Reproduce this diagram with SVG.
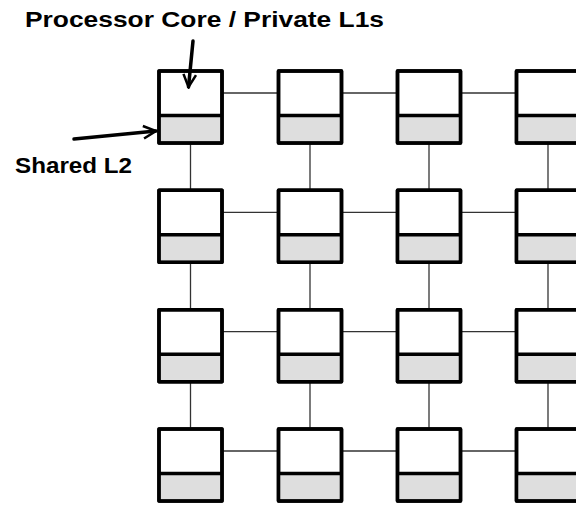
<svg xmlns="http://www.w3.org/2000/svg" width="576" height="506" viewBox="0 0 576 506">
<defs>
<style>
.core{fill:#ffffff;stroke:#000;stroke-width:3.5;stroke-linejoin:round}
.l2{fill:#dedede;stroke:none}
.div{stroke:#000;stroke-width:3.5}
.link{stroke:#333;stroke-width:1.3;fill:none}
.lbl{font-family:"Liberation Sans",Arial,sans-serif;font-weight:bold;font-size:22.5px;fill:#000}
.arr{stroke:#000;stroke-width:3.5;fill:none;stroke-linecap:round}
</style>
<marker id="ah" viewBox="0 0 10 10" refX="9" refY="5" markerWidth="4.5" markerHeight="4.5" orient="auto" markerUnits="strokeWidth">
<path d="M1,1 L9,5 L1,9" fill="none" stroke="#000" stroke-width="1.6" stroke-linejoin="miter"/>
</marker>
<g id="tile">
<rect class="core" x="0" y="0" width="63" height="72"/>
<rect class="l2" x="1.75" y="45" width="59.5" height="25.25"/>
<line class="div" x1="0" y1="44.5" x2="63" y2="44.5"/>
<rect x="0" y="0" width="63" height="72" fill="none" stroke="#000" stroke-width="3.5" stroke-linejoin="round"/>
</g>
</defs>
<g id="connectors">
<line class="link" x1="222" y1="93" x2="278.5" y2="93"/>
<line class="link" x1="341.5" y1="93" x2="397.5" y2="93"/>
<line class="link" x1="460.5" y1="93" x2="516.5" y2="93"/>
<line class="link" x1="222" y1="212.3" x2="278.5" y2="212.3"/>
<line class="link" x1="341.5" y1="212.3" x2="397.5" y2="212.3"/>
<line class="link" x1="460.5" y1="212.3" x2="516.5" y2="212.3"/>
<line class="link" x1="222" y1="331.7" x2="278.5" y2="331.7"/>
<line class="link" x1="341.5" y1="331.7" x2="397.5" y2="331.7"/>
<line class="link" x1="460.5" y1="331.7" x2="516.5" y2="331.7"/>
<line class="link" x1="222" y1="451" x2="278.5" y2="451"/>
<line class="link" x1="341.5" y1="451" x2="397.5" y2="451"/>
<line class="link" x1="460.5" y1="451" x2="516.5" y2="451"/>
<line class="link" x1="190.5" y1="143" x2="190.5" y2="190.3"/>
<line class="link" x1="190.5" y1="262.3" x2="190.5" y2="309.7"/>
<line class="link" x1="190.5" y1="381.7" x2="190.5" y2="429"/>
<line class="link" x1="310" y1="143" x2="310" y2="190.3"/>
<line class="link" x1="310" y1="262.3" x2="310" y2="309.7"/>
<line class="link" x1="310" y1="381.7" x2="310" y2="429"/>
<line class="link" x1="429" y1="143" x2="429" y2="190.3"/>
<line class="link" x1="429" y1="262.3" x2="429" y2="309.7"/>
<line class="link" x1="429" y1="381.7" x2="429" y2="429"/>
<line class="link" x1="548" y1="143" x2="548" y2="190.3"/>
<line class="link" x1="548" y1="262.3" x2="548" y2="309.7"/>
<line class="link" x1="548" y1="381.7" x2="548" y2="429"/>
</g>
<g id="n11"><use href="#tile" x="159" y="71"/></g>
<g id="n12"><use href="#tile" x="278.5" y="71"/></g>
<g id="n13"><use href="#tile" x="397.5" y="71"/></g>
<g id="n14"><use href="#tile" x="516.5" y="71"/></g>
<g id="n21"><use href="#tile" x="159" y="190.3"/></g>
<g id="n22"><use href="#tile" x="278.5" y="190.3"/></g>
<g id="n23"><use href="#tile" x="397.5" y="190.3"/></g>
<g id="n24"><use href="#tile" x="516.5" y="190.3"/></g>
<g id="n31"><use href="#tile" x="159" y="309.7"/></g>
<g id="n32"><use href="#tile" x="278.5" y="309.7"/></g>
<g id="n33"><use href="#tile" x="397.5" y="309.7"/></g>
<g id="n34"><use href="#tile" x="516.5" y="309.7"/></g>
<g id="n41"><use href="#tile" x="159" y="429"/></g>
<g id="n42"><use href="#tile" x="278.5" y="429"/></g>
<g id="n43"><use href="#tile" x="397.5" y="429"/></g>
<g id="n44"><use href="#tile" x="516.5" y="429"/></g>
<g id="label-core">
<text class="lbl" x="25" y="27" textLength="359" lengthAdjust="spacingAndGlyphs">Processor Core / Private L1s</text>
<line class="arr" x1="193" y1="41" x2="188.5" y2="87" marker-end="url(#ah)"/>
</g>
<g id="label-l2">
<text class="lbl" x="15" y="173" textLength="117" lengthAdjust="spacingAndGlyphs">Shared L2</text>
<line class="arr" x1="74" y1="139" x2="156" y2="131" marker-end="url(#ah)"/>
</g>
</svg>
